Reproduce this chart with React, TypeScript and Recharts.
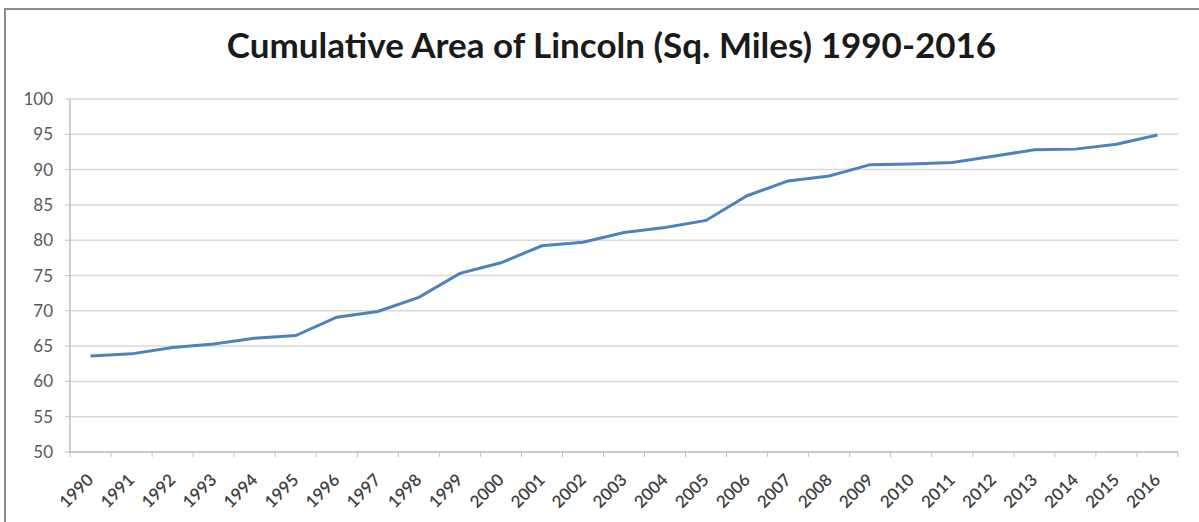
import { LineChart, Line, XAxis, YAxis, CartesianGrid } from "recharts"

const years = [
  "1990", "1991", "1992", "1993", "1994", "1995", "1996", "1997", "1998",
  "1999", "2000", "2001", "2002", "2003", "2004", "2005", "2006", "2007",
  "2008", "2009", "2010", "2011", "2012", "2013", "2014", "2015", "2016",
]

const area = [
  63.6, 63.9, 64.8, 65.3, 66.1, 66.5, 69.1, 69.9, 71.9,
  75.3, 76.8, 79.2, 79.7, 81.1, 81.8, 82.8, 86.3, 88.4,
  89.1, 90.7, 90.8, 91.0, 91.9, 92.8, 92.9, 93.6, 94.9,
]

const yTicks = [50, 55, 60, 65, 70, 75, 80, 85, 90, 95, 100]

const data = years.map((year, i) => ({ year, area: area[i] }))

const W = 1199
const H = 522
const margin = { top: 99, right: 21, bottom: 0, left: 10 }
const yAxisWidth = 60
const plotW = W - margin.left - margin.right - yAxisWidth
const half = plotW / years.length / 2

// Excel style: tick marks sit between categories, labels at 45 degrees
const YearTick = ({ x, y, payload, index }: any) => {
  const tx = x + 4
  const ty = y + 29
  return (
    <g>
      <line x1={x - half} y1={y} x2={x - half} y2={y + 5} stroke="#bfbfbf" />
      {index === years.length - 1 && (
        <line x1={x + half} y1={y} x2={x + half} y2={y + 5} stroke="#bfbfbf" />
      )}
      <text
        x={tx}
        y={ty}
        textAnchor="end"
        transform={`rotate(-45 ${tx} ${ty})`}
        fontSize={17}
        fontWeight={600}
        fontFamily="Lato"
        fill="#404040"
      >
        {payload.value}
      </text>
    </g>
  )
}

export default function App() {
  return (
    <div style={{ position: "absolute", left: 0, top: 0, width: W, height: H, background: "#fff", overflow: "hidden" }}>
      <div
        style={{
          position: "absolute",
          left: 4,
          top: 8,
          width: W,
          height: H,
          borderLeft: "2px solid #8c8c8c",
          borderTop: "2px solid #8c8c8c",
        }}
      />
      <div
        style={{
          position: "absolute",
          left: 0,
          top: 23,
          width: W,
          textAlign: "center",
          fontFamily: "Lato",
          fontWeight: 700,
          fontSize: 35,
          color: "#1a1a1a",
          paddingLeft: 12,
        }}
      >
        Cumulative Area of Lincoln (Sq. Miles) 1990-2016
      </div>
      <div style={{ position: "absolute", left: 0, top: 0 }}>
        <LineChart width={W} height={H} data={data} margin={margin}>
          <CartesianGrid vertical={false} stroke="#d9d9d9" strokeWidth={1.5} />
          <XAxis
            dataKey="year"
            interval={0}
            height={70}
            padding={{ left: half, right: half }}
            axisLine={{ stroke: "#bfbfbf", strokeWidth: 1.5 }}
            tickLine={false}
            tickSize={0}
            tickMargin={0}
            tick={<YearTick />}
          />
          <YAxis
            width={yAxisWidth}
            domain={[50, 100]}
            ticks={yTicks}
            interval={0}
            axisLine={{ stroke: "#bfbfbf", strokeWidth: 1.5 }}
            tickLine={{ stroke: "#bfbfbf" }}
            tickSize={5}
            tickMargin={12}
            tick={{ fontSize: 17, fontFamily: "Lato", fill: "#595959" }}
          />
          <Line
            type="linear"
            dataKey="area"
            stroke="#4f81bd"
            strokeWidth={3}
            dot={false}
            isAnimationActive={false}
          />
        </LineChart>
      </div>
    </div>
  )
}
